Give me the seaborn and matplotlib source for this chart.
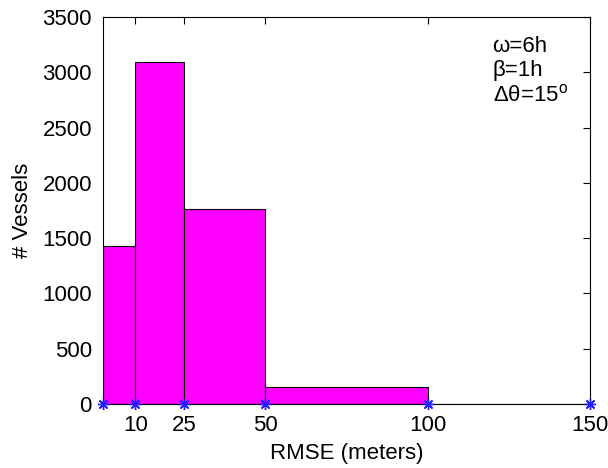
import numpy as np
import pandas as pd
import matplotlib
matplotlib.use("Agg")
import matplotlib.pyplot as plt
import seaborn as sns

bin_edges = [0, 10, 25, 50, 100, 150]
counts = [1430, 3090, 1760, 150, 0]
xtick_labels = ["10", "25", "50", "100", "150"]
xtick_pos = [10, 25, 50, 100, 150]
yticks = [0, 500, 1000, 1500, 2000, 2500, 3000, 3500]
annot_lines = ["ω=6h", "β=1h", "Δθ=15$^\\mathregular{o}$"]

sns.set_theme(style="white")
plt.rcParams['font.family'] = ['Liberation Sans', 'DejaVu Sans']
plt.rcParams['mathtext.fontset'] = 'custom'
plt.rcParams['mathtext.rm'] = 'Liberation Sans'
plt.rcParams['text.color'] = 'black'
plt.rcParams['axes.labelcolor'] = 'black'

mids = [(bin_edges[i] + bin_edges[i + 1]) / 2 for i in range(len(counts))]
df = pd.DataFrame({"mid": mids, "count": counts})

fig = plt.figure(figsize=(6.08, 4.68), dpi=100)
ax = fig.add_axes([103 / 608, 1 - 404 / 468, (590 - 103) / 608, (404 - 17) / 468])

sns.histplot(data=df, x="mid", weights="count", bins=bin_edges, ax=ax,
             color="#ff00ff", edgecolor="black", linewidth=0.8, alpha=1.0)

ax.plot(bin_edges, [0] * len(bin_edges), linestyle="none", marker=(8, 2, 0),
        color="#1f1fff", markersize=8, markeredgewidth=1.0, clip_on=False, zorder=5)

ax.set_xlim(0, 150)
ax.set_ylim(0, 3500)
ax.set_xticks(xtick_pos)
ax.set_xticklabels(xtick_labels)
ax.set_yticks(yticks)
ax.set_xlabel("RMSE (meters)", fontsize=16, labelpad=5, color="black")
ax.set_ylabel("# Vessels", fontsize=16, labelpad=7, color="black")
ax.tick_params(direction="in", length=5, width=0.8, labelsize=16, top=True, right=True,
               colors="black", labelcolor="black")
ax.tick_params(axis="x", pad=8)
ax.tick_params(axis="y", pad=8)
for s in ax.spines.values():
    s.set_visible(True)
    s.set_color("black")
    s.set_linewidth(0.8)
ax.grid(False)

for i, line in enumerate(annot_lines):
    ax.text(120, 3229 - i * 217, line, fontsize=16, va="center", ha="left", color="black")

fig.savefig("out.png", dpi=100)
